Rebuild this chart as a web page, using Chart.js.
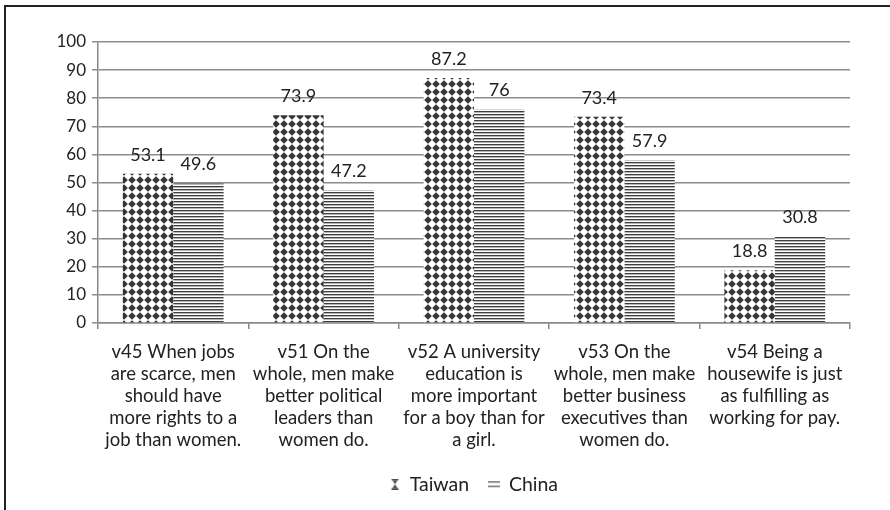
<!DOCTYPE html>
<html>
<head>
<meta charset="utf-8">
<script src="https://cdn.jsdelivr.net/npm/chart.js@4"></script>
<style>
  html, body { margin: 0; padding: 0; background: #fff; }
  #wrap { position: relative; width: 890px; height: 510px; overflow: hidden; }
  #frame { position: absolute; left: 4px; top: 5px; width: 900px; height: 520px;
           border-top: 2px solid #222; border-left: 2px solid #222; box-sizing: border-box; pointer-events: none; }
  canvas { position: absolute; left: 0; top: 0; }
</style>
</head>
<body>
<div id="wrap">
  <canvas id="c" width="890" height="510"></canvas>
  <div id="frame"></div>
</div>
<script>
const categories = [
  ["v45 When jobs", "are scarce, men", "should have", "more rights to a", "job than women."],
  ["v51 On the", "whole, men make", "better political", "leaders than", "women do."],
  ["v52 A university", "education is", "more important", "for a boy than for", "a girl."],
  ["v53 On the", "whole, men make", "better business", "executives than", "women do."],
  ["v54 Being a", "housewife is just", "as fulfilling as", "working for pay."]
];
const seriesNames = ["Taiwan", "China"];
const taiwanValues = [53.1, 73.9, 87.2, 73.4, 18.8];
const chinaValues = [49.6, 47.2, 76, 57.9, 30.8];
const yTicks = [0, 10, 20, 30, 40, 50, 60, 70, 80, 90, 100];

const FONT = "Lato, 'Open Sans', sans-serif";
const ctx0 = document.getElementById('c').getContext('2d');

function diamondTile() {
  const p = document.createElement('canvas');
  p.width = 8; p.height = 8;
  const g = p.getContext('2d');
  g.fillStyle = '#fff'; g.fillRect(0, 0, 8, 8);
  g.fillStyle = '#353535';
  g.beginPath();
  g.moveTo(4, 0.2); g.lineTo(7.8, 4); g.lineTo(4, 7.8); g.lineTo(0.2, 4); g.closePath();
  g.fill();
  return p;
}
function stripeTile() {
  const p = document.createElement('canvas');
  p.width = 4; p.height = 3;
  const g = p.getContext('2d');
  g.fillStyle = '#fff'; g.fillRect(0, 0, 4, 3);
  g.fillStyle = '#3e3e3e'; g.fillRect(0, 0, 4, 1);
  g.fillStyle = '#b5b5b5'; g.fillRect(0, 1, 4, 1);
  return p;
}
function taiwanIcon() {
  const p = document.createElement('canvas');
  p.width = 9; p.height = 11;
  const g = p.getContext('2d');
  g.fillStyle = '#444';
  g.fillRect(1, 0, 7, 1.5); g.fillRect(1, 9.5, 7, 1.5);
  g.beginPath(); g.moveTo(2, 1.5); g.lineTo(7, 1.5); g.lineTo(4.5, 5.5); g.lineTo(7, 9.5); g.lineTo(2, 9.5); g.lineTo(4.5, 5.5); g.closePath();
  g.fill();
  return p;
}
function chinaIcon() {
  const p = document.createElement('canvas');
  p.width = 12; p.height = 8;
  const g = p.getContext('2d');
  g.fillStyle = '#666';
  g.fillRect(0, 1, 12, 1.4); g.fillRect(0, 5.5, 12, 1.4);
  return p;
}

const taiwanFill = ctx0.createPattern(diamondTile(), 'repeat');
const chinaFill = ctx0.createPattern(stripeTile(), 'repeat');
const icons = [taiwanIcon(), chinaIcon()];

const valueLabels = {
  id: 'valueLabels',
  afterDatasetsDraw(chart) {
    const ctx = chart.ctx;
    ctx.save();
    ctx.font = '18px ' + FONT;
    ctx.fillStyle = '#222';
    ctx.textAlign = 'center';
    ctx.textBaseline = 'bottom';
    chart.data.datasets.forEach((ds, i) => {
      chart.getDatasetMeta(i).data.forEach((bar, j) => {
        ctx.fillText(String(ds.data[j]), bar.x, bar.y - 10);
      });
    });
    ctx.restore();
  }
};

const BOTTOM_PAD = 6;
const LEFT_PAD = 10;
const LEGEND_FONT = 19.5;
const LEGEND_PAD = 20;
const LEGEND_H = LEGEND_FONT + LEGEND_PAD + 10;

const chart = new Chart(document.getElementById('c'), {
  type: 'bar',
  data: {
    labels: categories,
    datasets: [
      { label: seriesNames[0], data: taiwanValues, backgroundColor: taiwanFill, borderWidth: 0 },
      { label: seriesNames[1], data: chinaValues, backgroundColor: chinaFill, borderWidth: 0 }
    ]
  },
  options: {
    responsive: false,
    animation: false,
    devicePixelRatio: 1,
    layout: { autoPadding: false, padding: { left: LEFT_PAD, top: 42, right: 40, bottom: BOTTOM_PAD } },
    datasets: { bar: { categoryPercentage: 0.67, barPercentage: 1.0 } },
    plugins: {
      tooltip: { enabled: false },
      legend: {
        position: 'bottom',
        fullSize: false,
        labels: {
          font: { family: FONT, size: LEGEND_FONT },
          color: '#222',
          usePointStyle: true,
          pointStyleWidth: 10,
          padding: LEGEND_PAD,
          generateLabels(chart) {
            return chart.data.datasets.map((ds, i) => ({
              text: ds.label,
              pointStyle: icons[i],
              fillStyle: '#444',
              strokeStyle: '#444',
              lineWidth: 0,
              fontColor: '#222',
              datasetIndex: i,
              hidden: false
            }));
          }
        }
      }
    },
    scales: {
      x: {
        offset: true,
        grid: { offset: true, drawOnChartArea: false, color: '#888', lineWidth: 1.5, tickLength: 6, tickColor: '#888' },
        border: { color: '#888', width: 1.5 },
        ticks: { font: { family: FONT, size: 18.5, lineHeight: 22 / 18.5 }, color: '#222', maxRotation: 0, autoSkip: false, padding: 12 },
        afterFit(s) { s.height = 510 - 323 - BOTTOM_PAD - LEGEND_H; }
      },
      y: {
        min: 0, max: 100,
        afterBuildTicks(s) { s.ticks = yTicks.map(v => ({ value: v })); },
        grid: { color: '#8c8c8c', lineWidth: 1.5, tickLength: 6, tickColor: '#8c8c8c' },
        border: { color: '#888', width: 1.5 },
        ticks: { font: { family: FONT, size: 17 }, color: '#222', padding: 6 },
        afterFit(s) { s.width = 98 - LEFT_PAD; }
      }
    }
  },
  plugins: [valueLabels]
});
</script>
</body>
</html>
